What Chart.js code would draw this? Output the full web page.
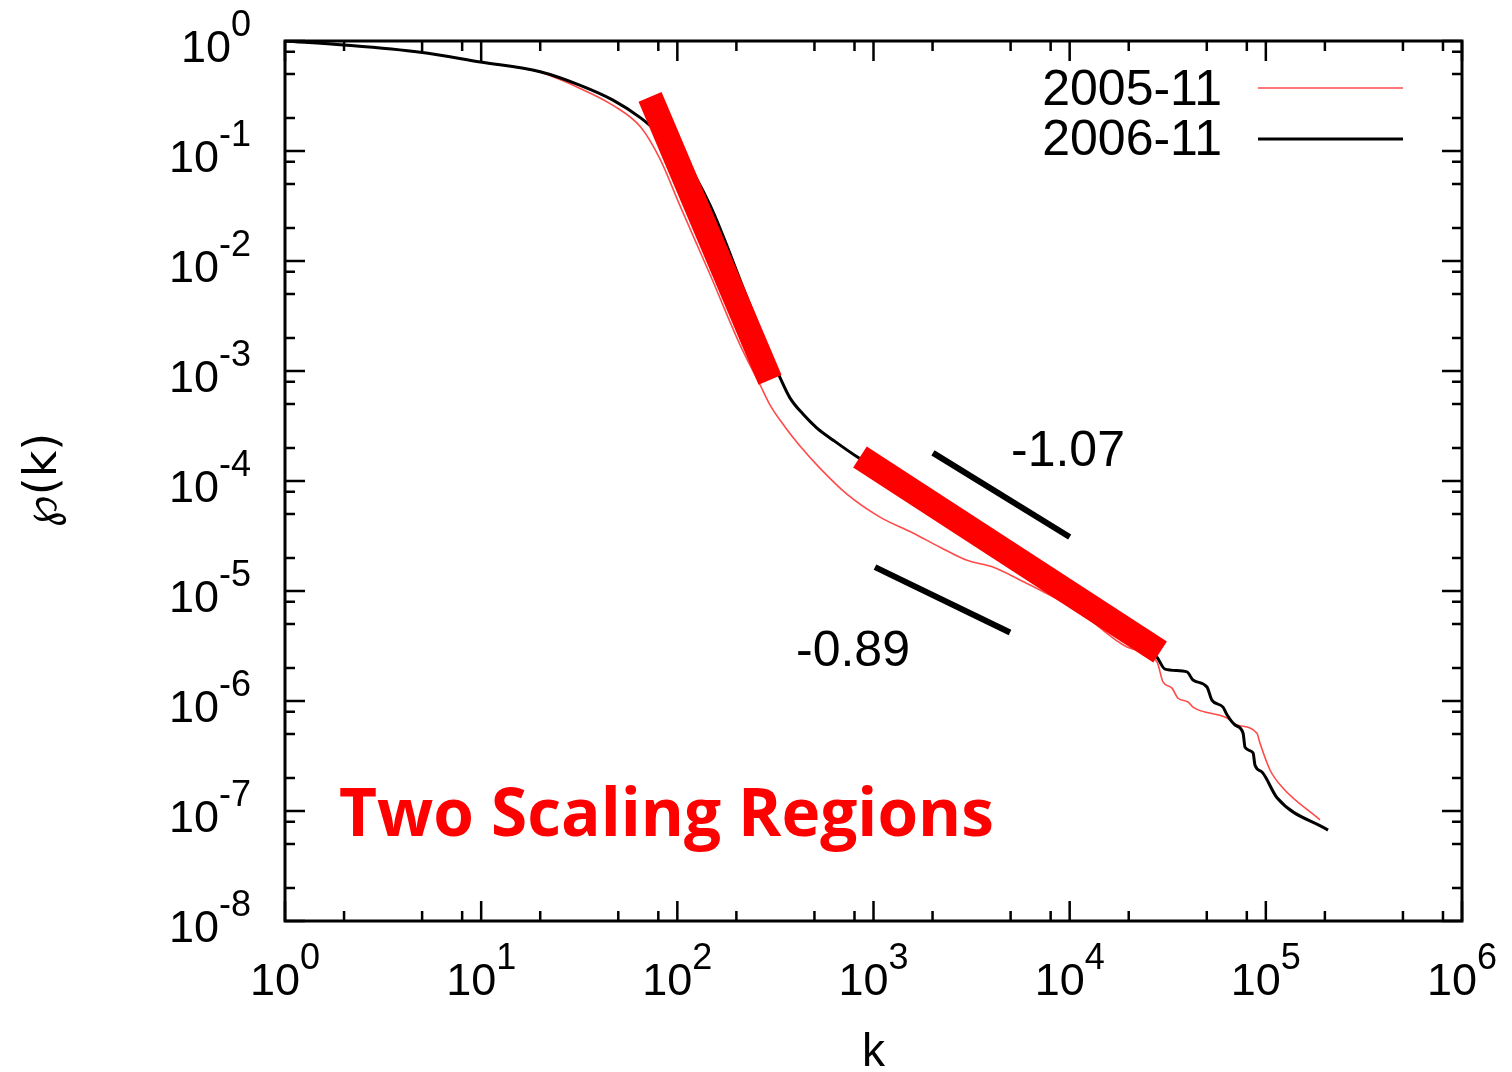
<!DOCTYPE html>
<html>
<head>
<meta charset="utf-8">
<script src="https://cdn.jsdelivr.net/npm/chart.js@4.4.1/dist/chart.umd.min.js"></script>
<style>
  html, body { margin: 0; background: #fff; }
  #wrap { width: 1512px; height: 1072px; }
</style>
</head>
<body>
<div id="wrap"><canvas id="chart1"></canvas></div>
<script>
// 2006-11 (black)
const kBlack = [1, 2, 4.9, 9.9, 20, 32, 47, 65, 82, 109, 147, 226, 297, 333, 375, 437, 515, 621, 824,
  1365, 2455, 4414, 7940, 14280, 27870, 30620, 39630, 42540, 50120, 53090, 60500, 63400,
  69660, 76560, 78340, 86100, 88100, 95600, 114000, 207500];
const pBlack = [1, 0.92, 0.79, 0.645, 0.525, 0.395, 0.29, 0.2, 0.14, 0.083, 0.032, 0.0047, 0.0014, 8.8e-4, 5.7e-4, 4.06e-4, 3.03e-4, 2.36e-4, 1.66e-4,
  9.8e-5, 5.0e-5, 2.57e-5, 1.31e-5, 6.4e-6, 2.5e-6, 1.95e-6, 1.84e-6, 1.55e-6, 1.34e-6, 1.02e-6, 8.8e-7, 7.5e-7,
  6.05e-7, 5.1e-7, 3.8e-7, 3.37e-7, 2.6e-7, 2.26e-7, 1.32e-7, 6.7e-8];

// 2005-11 (red)
const kRed = [1, 2, 4.9, 9.9, 20, 32, 47, 65, 82, 103, 147, 209, 264, 297, 354, 422, 533, 732,
  1079, 1589, 2182, 2997, 4064, 5580, 7060, 11290, 19590, 27870, 29900, 33240, 35650, 40100,
  42540, 63400, 71300, 90100, 93300, 105000, 122200, 188800];
const pRed = [1, 0.92, 0.79, 0.645, 0.52, 0.37, 0.26, 0.165, 0.083, 0.032, 0.0075, 1.72e-3, 7.5e-4, 4.9e-4, 3.1e-4, 2.08e-4, 1.31e-4, 7.6e-5,
  4.7e-5, 3.37e-5, 2.5e-5, 1.9e-5, 1.65e-5, 1.26e-5, 1.02e-5, 6.4e-6, 3.1e-6, 2.26e-6, 1.49e-6, 1.31e-6, 1.06e-6, 9.8e-7,
  8.8e-7, 7.0e-7, 6.05e-7, 5.1e-7, 4.15e-7, 2.36e-7, 1.62e-7, 8.3e-8];

// thick red fit bands
const kBand1 = [72.6, 297];
const pBand1 = [0.31, 8.3e-4];
const kBand2 = [853, 28900];
const pBand2 = [1.65e-4, 2.79e-6];

// guide slopes
const kSlopeA = [2010, 10000];
const pSlopeA = [1.8e-4, 3.1e-5];
const kSlopeB = [1018, 4965];
const pSlopeB = [1.65e-5, 4.2e-6];

const seriesNames = ["2005-11", "2006-11"];
const slopeLabels = ["-1.07", "-0.89"];
const noteText = "Two Scaling Regions";
const xExps = [0, 1, 2, 3, 4, 5, 6];
const yExps = [0, -1, -2, -3, -4, -5, -6, -7, -8];
const minorSteps = [2, 5, 8];

const FONT = '"Liberation Sans", Arial, sans-serif';

function pts(ks, ps) {
  return ks.map((k, i) => ({ x: k, y: ps[i] }));
}

// draw "10" with a raised exponent
function drawPow(ctx, exp, x, y, align) {
  ctx.font = "45px " + FONT;
  const wb = ctx.measureText("10").width;
  ctx.font = "36px " + FONT;
  const we = ctx.measureText(String(exp)).width;
  let left = x;
  if (align === "center") left = x - (wb + we) / 2;
  if (align === "right") left = x - (wb + we);
  ctx.textAlign = "left";
  ctx.textBaseline = "alphabetic";
  ctx.font = "45px " + FONT;
  ctx.fillText("10", left, y);
  ctx.font = "36px " + FONT;
  ctx.fillText(String(exp), left + wb, y - 26);
}

const framePlugin = {
  id: "frame",
  afterDatasetsDraw(chart) {
    const { ctx, chartArea: a, scales } = chart;
    const xs = scales.x, ys = scales.y;
    ctx.save();
    ctx.strokeStyle = "#000";
    ctx.fillStyle = "#000";
    ctx.lineWidth = 3;
    ctx.strokeRect(a.left, a.top, a.right - a.left, a.bottom - a.top);

    // inward ticks on all four sides
    ctx.lineWidth = 2.5;
    ctx.beginPath();
    xExps.forEach((e) => {
      const px = xs.getPixelForValue(Math.pow(10, e));
      ctx.moveTo(px, a.bottom); ctx.lineTo(px, a.bottom - 20);
      ctx.moveTo(px, a.top); ctx.lineTo(px, a.top + 20);
      if (e < xExps[xExps.length - 1]) {
        minorSteps.forEach((m) => {
          const p = xs.getPixelForValue(m * Math.pow(10, e));
          ctx.moveTo(p, a.bottom); ctx.lineTo(p, a.bottom - 10);
          ctx.moveTo(p, a.top); ctx.lineTo(p, a.top + 10);
        });
      }
    });
    yExps.forEach((e) => {
      const py = ys.getPixelForValue(Math.pow(10, e));
      ctx.moveTo(a.left, py); ctx.lineTo(a.left + 20, py);
      ctx.moveTo(a.right, py); ctx.lineTo(a.right - 20, py);
      if (e > yExps[yExps.length - 1]) {
        minorSteps.forEach((m) => {
          const p = ys.getPixelForValue(m * Math.pow(10, e - 1));
          ctx.moveTo(a.left, p); ctx.lineTo(a.left + 10, p);
          ctx.moveTo(a.right, p); ctx.lineTo(a.right - 10, p);
        });
      }
    });
    ctx.stroke();

    // tick labels
    xExps.forEach((e) => {
      drawPow(ctx, e, xs.getPixelForValue(Math.pow(10, e)), a.bottom + 74, "center");
    });
    yExps.forEach((e) => {
      drawPow(ctx, e, a.left - 34, ys.getPixelForValue(Math.pow(10, e)) + 21, "right");
    });

    // axis titles
    ctx.font = "46px " + FONT;
    ctx.textAlign = "center";
    ctx.textBaseline = "alphabetic";
    ctx.fillText("k", (a.left + a.right) / 2, 1066);
    ctx.save();
    ctx.translate(56, 480);
    ctx.rotate(-Math.PI / 2);
    ctx.font = '46px "DejaVu Sans", ' + FONT;
    ctx.fillText("\u2118(k)", 0, 0);
    ctx.restore();

    // legend
    const ds = chart.data.datasets;
    ctx.font = "50px " + FONT;
    ctx.textAlign = "right";
    [ [ds[3], 105, 88], [ds[2], 155, 139] ].forEach(([d, base, ly]) => {
      ctx.fillStyle = "#000";
      ctx.fillText(d.label, 1222, base);
      ctx.strokeStyle = d.borderColor;
      ctx.lineWidth = d.borderWidth;
      ctx.beginPath();
      ctx.moveTo(1258, ly); ctx.lineTo(1403, ly);
      ctx.stroke();
    });

    // slope labels
    ctx.fillStyle = "#000";
    ctx.textAlign = "left";
    ctx.font = "50px " + FONT;
    ctx.fillText(slopeLabels[0], 1011, 466);
    ctx.fillText(slopeLabels[1], 796, 666);

    // note
    ctx.fillStyle = "#ff0000";
    let size = 62;
    ctx.font = 'bold ' + size + 'px "Open Sans", Lato, sans-serif';
    size = size * 655 / ctx.measureText(noteText).width;
    ctx.font = 'bold ' + size.toFixed(1) + 'px "Open Sans", Lato, sans-serif';
    ctx.fillText(noteText, 339, 836);
    ctx.restore();
  },
};

const ctx = document.getElementById("chart1");

const chart = new Chart(ctx, {
  type: "line",
  data: {
    datasets: [
      { label: "band1", data: pts(kBand1, pBand1), borderColor: "#ff0000", borderWidth: 25, borderCapStyle: "butt", order: 0 },
      { label: "band2", data: pts(kBand2, pBand2), borderColor: "#ff0000", borderWidth: 25, borderCapStyle: "butt", order: 0 },
      { label: seriesNames[1], data: pts(kBlack, pBlack), borderColor: "#000000", borderWidth: 3, cubicInterpolationMode: "monotone", order: 2 },
      { label: seriesNames[0], data: pts(kRed, pRed), borderColor: "#ff4a4a", borderWidth: 1.6, cubicInterpolationMode: "monotone", order: 3 },
      { label: "slopeA", data: pts(kSlopeA, pSlopeA), borderColor: "#000000", borderWidth: 6, order: 1 },
      { label: "slopeB", data: pts(kSlopeB, pSlopeB), borderColor: "#000000", borderWidth: 6, order: 1 },
    ],
  },
  options: {
    responsive: true,
    maintainAspectRatio: false,
    animation: false,
    layout: { padding: { left: 285, top: 41, right: 50, bottom: 151 } },
    elements: { point: { radius: 0 }, line: { fill: false } },
    scales: {
      x: { type: "logarithmic", min: 1, max: 1e6, display: false },
      y: { type: "logarithmic", min: 1e-8, max: 1, display: false },
    },
    plugins: { legend: { display: false }, tooltip: { enabled: false } },
  },
  plugins: [framePlugin],
});
</script>
</body>
</html>
